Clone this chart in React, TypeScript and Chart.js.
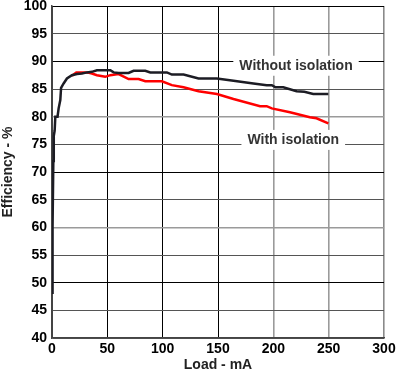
import React, { useEffect, useRef } from "react";
import { Chart, registerables } from "chart.js";

Chart.register(...registerables);

// Load (mA) / efficiency (%) — "Without isolation"
const loadWithout = [0, 0.5, 1.2, 1.6, 2.4, 3, 5, 6, 7.5, 8.2, 10.5, 13.5, 18, 22.6, 27, 31.6, 36, 40.6, 52.7, 55.7, 60.2, 69.2, 73.7, 84.3, 88.8, 103.8, 108.3, 118.9, 132.4, 149, 164, 182, 194, 198.6, 202, 209, 221, 228, 236, 249.7];
const effWithout = [48.2, 60, 72, 76.5, 77.5, 80, 80, 81.5, 83, 85.2, 86, 86.9, 87.5, 87.7, 87.8, 88.0, 88.1, 88.4, 88.4, 88.0, 87.9, 87.9, 88.3, 88.3, 88.0, 88.0, 87.6, 87.6, 86.9, 86.9, 86.5, 86.0, 85.7, 85.7, 85.3, 85.3, 84.6, 84.5, 84.1, 84.1];

// Load (mA) / efficiency (%) — "With isolation"
const loadWith = [18, 22, 31.6, 36.1, 40.6, 48.1, 52.7, 60.2, 69.2, 78.2, 84.3, 99.3, 108.3, 118.9, 132.4, 149, 164, 188, 194, 198.6, 215, 233, 239, 249.7];
const effWith = [87.4, 88.0, 88.0, 87.8, 87.5, 87.2, 87.5, 87.7, 86.8, 86.8, 86.4, 86.4, 85.7, 85.3, 84.6, 84.1, 83.2, 81.9, 81.9, 81.5, 80.8, 79.9, 79.7, 78.8];

const seriesNames = ["Without isolation", "With isolation"];
const xTitle = "Load - mA";
const yTitle = "Efficiency - %";

const FONT = "'Liberation Sans', Arial, Helvetica, sans-serif";

const labelPlugin = {
  id: "curveLabels",
  afterDatasetsDraw(chart: any) {
    const { ctx, scales } = chart;
    const anchors = [
      { text: seriesNames[0], x: 220.5, y: 89.2 },
      { text: seriesNames[1], x: 218, y: 75.8 },
    ];
    ctx.save();
    ctx.font = `bold 14px ${FONT}`;
    ctx.textAlign = "center";
    ctx.textBaseline = "middle";
    for (const a of anchors) {
      const px = scales.x.getPixelForValue(a.x);
      const py = scales.y.getPixelForValue(a.y);
      const w = ctx.measureText(a.text).width;
      ctx.fillStyle = "#ffffff";
      ctx.fillRect(px - w / 2 - 6, py - 10, w + 12, 20);
      ctx.fillStyle = "#333333";
      ctx.fillText(a.text, px, py);
    }
    ctx.restore();
  },
};

export default function App() {
  const ref = useRef<HTMLCanvasElement | null>(null);

  useEffect(() => {
    if (!ref.current) return;
    const chart = new Chart(ref.current, {
      type: "line",
      data: {
        datasets: [
          {
            label: seriesNames[0],
            data: loadWithout.map((x, i) => ({ x, y: effWithout[i] })),
            borderColor: "#1c1c24",
            borderWidth: 2.5,
            pointRadius: 0,
            tension: 0,
            order: 0,
          },
          {
            label: seriesNames[1],
            data: loadWith.map((x, i) => ({ x, y: effWith[i] })),
            borderColor: "#ff0000",
            borderWidth: 2.5,
            pointRadius: 0,
            tension: 0,
            order: 1,
          },
        ],
      },
      options: {
        responsive: false,
        animation: false,
        events: [],
        layout: { padding: { top: 6, right: 15, left: 0, bottom: 0 } },
        plugins: {
          legend: { display: false },
          tooltip: { enabled: false },
        },
        scales: {
          x: {
            type: "linear",
            min: 0,
            max: 300,
            afterFit: (s: any) => {
              s.height = 36;
              s.paddingLeft = 0;
              s.paddingRight = 0;
            },
            ticks: {
              stepSize: 50,
              padding: 3,
              color: "#000",
              font: { family: FONT, size: 14, weight: "bold" },
            },
            grid: {
              drawTicks: false,
              color: (c: any) => {
                const v = c.tick?.value;
                if (v === 200 || v === 250) return "#9a9a9a";
                if (v === 300) return "#8a8a8a";
                if (v === 0) return "#444";
                return "#000";
              },
              lineWidth: (c: any) => {
                const v = c.tick?.value;
                if (v === 200 || v === 250 || v === 300) return 1.6;
                return 1;
              },
            },
            border: { color: "#444", width: 1.5 },
            title: {
              display: true,
              text: xTitle,
              color: "#222",
              padding: { top: 0, bottom: 0 },
              font: { family: FONT, size: 14, weight: "bold" },
            },
          },
          y: {
            type: "linear",
            min: 40,
            max: 100,
            afterFit: (s: any) => {
              s.width = 52;
              s.paddingTop = 0;
              s.paddingBottom = 0;
            },
            ticks: {
              stepSize: 5,
              padding: 5,
              color: "#000",
              font: { family: FONT, size: 14, weight: "bold" },
            },
            grid: {
              drawTicks: false,
              color: (c: any) => {
                const v = c.tick?.value;
                if (v === 90 || v === 70 || v === 50 || v === 100) return "#000";
                if (v === 80 || v === 60) return "#9a9a9a";
                return "#555";
              },
              lineWidth: (c: any) => {
                const v = c.tick?.value;
                if (v === 80 || v === 60) return 1.6;
                return 1;
              },
            },
            border: { color: "#444", width: 1.5 },
            title: {
              display: true,
              text: yTitle,
              color: "#222",
              padding: { top: 0, bottom: 0 },
              font: { family: FONT, size: 14, weight: "bold" },
            },
          },
        },
      },
      plugins: [labelPlugin],
    });
    return () => chart.destroy();
  }, []);

  return (
    <div style={{ position: "absolute", left: 0, top: 0, width: 399, height: 374, background: "#fff" }}>
      <canvas ref={ref} width={399} height={374} style={{ width: 399, height: 374, display: "block" }} />
    </div>
  );
}
